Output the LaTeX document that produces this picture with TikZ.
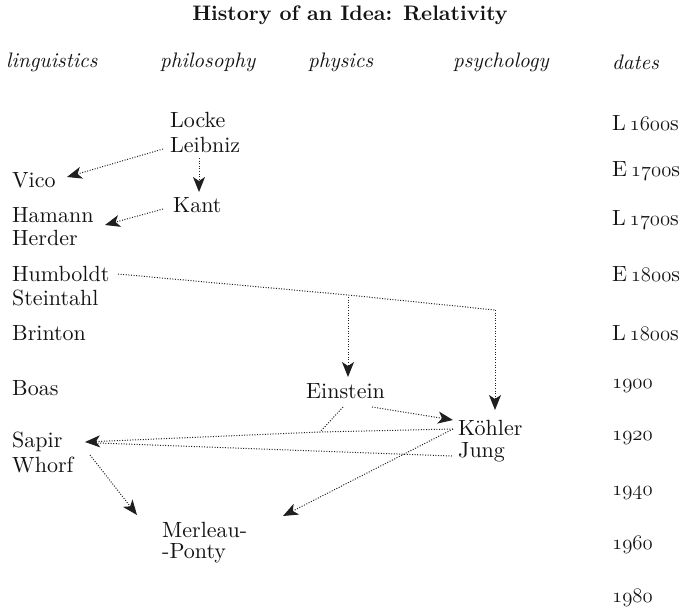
\documentclass[tikz,border=0pt]{standalone}
\usepackage{fontspec}
\setmainfont{lmroman10-regular}[Extension=.otf, BoldFont=lmroman10-bold, ItalicFont=lmroman10-italic, BoldItalicFont=lmroman10-bolditalic]
\usetikzlibrary{arrows.meta}
\newcommand\osnum[1]{{\usefont{OML}{lmm}{m}{it}#1}}
\begin{document}
\begin{tikzpicture}[x=1pt,y=-1pt,
  lbl/.style={anchor=west, inner sep=0pt, text=black!92, font=\fontsize{22}{24}\selectfont},
  hdr/.style={anchor=west, inner sep=0pt, text=black!92, font=\fontsize{21}{24}\selectfont\itshape},
  ttl/.style={inner sep=0pt, text=black!92, font=\fontsize{21}{24}\selectfont\bfseries},
  dt/.style={anchor=west, inner sep=0pt, text=black!92, font=\fontsize{22}{24}\selectfont},
  link/.style={draw=black!88, line width=1pt, dash pattern=on 1pt off 1.6pt},
  arr/.style={link, -{Stealth[length=15pt,width=12pt,inset=4pt]}}
]
\useasboundingbox (0,0) rectangle (688,611);

% title and headers
\node[ttl] (title) at (350,15) {History of an Idea: Relativity};
\node[hdr] (hling) at (6,62) {linguistics};
\node[hdr] (hphil) at (160,62) {philosophy};
\node[hdr] (hphys) at (308,62) {physics};
\node[hdr] (hpsy) at (453,62) {psychology};
\node[hdr] (hdate) at (612,62) {dates};

% names
\node[lbl] (locke) at (170,120) {Locke};
\node[lbl] (leibniz) at (170,145) {Leibniz};
\node[lbl] (vico) at (12,180) {Vico};
\node[lbl] (kant) at (173,205) {Kant};
\node[lbl] (hamann) at (12,215) {Hamann};
\node[lbl] (herder) at (12,238) {Herder};
\node[lbl] (humboldt) at (12,274) {Humboldt};
\node[lbl] (steintahl) at (12,298) {Steintahl};
\node[lbl] (brinton) at (12,333) {Brinton};
\node[lbl] (boas) at (12,388) {Boas};
\node[lbl] (einstein) at (306,391) {Einstein};
\node[lbl] (kohler) at (458,428) {Köhler};
\node[lbl] (jung) at (458,452) {Jung};
\node[lbl] (sapir) at (12,442) {Sapir};
\node[lbl] (whorf) at (12,465) {Whorf};
\node[lbl] (merleau) at (162,530) {Merleau-};
\node[lbl] (ponty) at (162,553) {-Ponty};

% dates
\node[dt] (d1) at (612,123) {L\,\osnum{1600}s};
\node[dt] (d2) at (612,171) {E\,\osnum{1700}s};
\node[dt] (d3) at (612,220) {L\,\osnum{1700}s};
\node[dt] (d4) at (612,274) {E\,\osnum{1800}s};
\node[dt] (d5) at (612,333) {L\,\osnum{1800}s};
\node[dt] (d6) at (612,386) {\osnum{1900}};
\node[dt] (d7) at (612,438) {\osnum{1920}};
\node[dt] (d8) at (612,493) {\osnum{1940}};
\node[dt] (d9) at (612,545) {\osnum{1960}};
\node[dt] (d10) at (612,598) {\osnum{1980}};

% bend coordinates
\coordinate (b1) at (348,295);
\coordinate (b2) at (495,310);
\coordinate (j) at (320,432);

% connectors
\draw[arr] ([xshift=-7pt,yshift=-4pt]leibniz.west) -- ([xshift=55pt,yshift=3pt]vico.west);
\draw[arr] ([xshift=29pt,yshift=-13pt]leibniz.west) -- ([xshift=26pt,yshift=13pt]kant.west);
\draw[arr] ([xshift=-10pt,yshift=-4pt]kant.west) -- ([xshift=93pt,yshift=-10pt]hamann.west);
\draw[link] ([xshift=106pt]humboldt.west) -- (b1) -- (b2);
\draw[arr] ([yshift=-2pt]b1) -- ([xshift=42pt,yshift=14pt]einstein.west);
\draw[arr] (b2) -- ([xshift=37pt,yshift=18pt]kohler.west);
\draw[arr] ([xshift=66pt,yshift=-16pt]einstein.west) -- ([xshift=-5pt,yshift=8pt]kohler.west);
\draw[link] ([xshift=37pt,yshift=-16pt]einstein.west) -- (j);
\draw[arr] ([xshift=-5pt,yshift=-1pt]kohler.west) -- (j) -- ([xshift=73pt]sapir.west);
\draw[link] ([xshift=-6pt,yshift=-4pt]jung.west) -- ([xshift=86pt,yshift=-1pt]sapir.west);
\draw[arr] ([xshift=-5pt,yshift=-1pt]kohler.west) -- ([xshift=121pt,yshift=14pt]merleau.west);
\draw[arr] ([xshift=78pt,yshift=-13pt]sapir.west) -- ([xshift=-25pt,yshift=15pt]merleau.west);
\end{tikzpicture}
\end{document}
